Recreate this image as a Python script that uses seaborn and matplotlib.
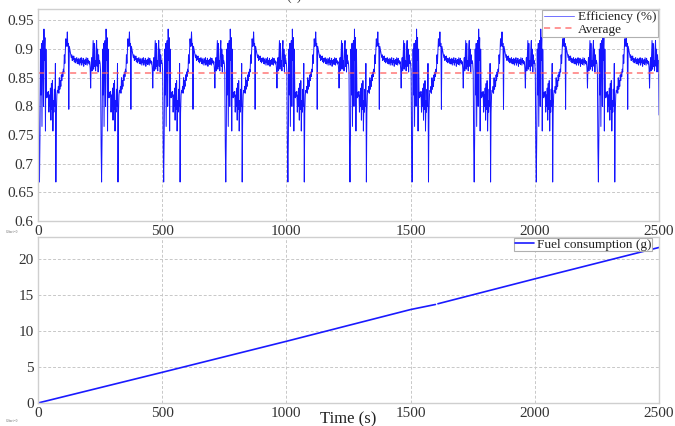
import numpy as np
import pandas as pd
import matplotlib
matplotlib.use("Agg")
import matplotlib.pyplot as plt
from matplotlib.ticker import FuncFormatter
import seaborn as sns

# ---------------- data ----------------
# one drive cycle of efficiency (2 s steps, 250 s long); the cycle repeats 10 times
eff_cycle = [
    0.875, 0.86, 0.73, 0.668, 0.75, 0.90, 0.82, 0.91, 0.765, 0.905,
    0.915, 0.80, 0.935, 0.88, 0.92, 0.757, 0.90, 0.822, 0.815, 0.825,
    0.818, 0.826, 0.79, 0.82, 0.80, 0.832, 0.776, 0.84, 0.795, 0.845,
    0.757, 0.81, 0.79, 0.83, 0.80, 0.875, 0.668, 0.79, 0.82, 0.828,
    0.825, 0.835, 0.823, 0.85, 0.83, 0.845, 0.835, 0.855, 0.845, 0.86,
    0.852, 0.865, 0.86, 0.89, 0.875, 0.895, 0.918, 0.905, 0.91, 0.93,
    0.905, 0.91, 0.795, 0.905, 0.90, 0.895, 0.89, 0.885, 0.89, 0.88,
    0.887, 0.882, 0.888, 0.878, 0.884, 0.876, 0.883, 0.879, 0.885, 0.875,
    0.882, 0.874, 0.884, 0.878, 0.872, 0.883, 0.876, 0.885, 0.872, 0.88,
    0.876, 0.884, 0.87, 0.88, 0.875, 0.882, 0.873, 0.885, 0.878, 0.872,
    0.884, 0.876, 0.88, 0.874, 0.878, 0.866, 0.832, 0.87, 0.885, 0.862,
    0.89, 0.915, 0.865, 0.91, 0.87, 0.88, 0.862, 0.90, 0.915, 0.87,
    0.90, 0.86, 0.89, 0.875, 0.88,
]
n_cycles = 10
eff_start = 0.60      # value at t = 0
eff_end = 0.785       # value at t = 2500
eff_average = 0.858

fuel_time = [0, 500, 1000, 1500, 1600, 1610, 2000, 2500]
fuel_value = [0.0, 4.25, 8.55, 12.95, 13.65, 13.75, 17.2, 21.55]

xticks = [0, 500, 1000, 1500, 2000, 2500]
eff_yticks = [0.6, 0.65, 0.7, 0.75, 0.8, 0.85, 0.9, 0.95]
fuel_yticks = [0, 5, 10, 15, 20]

# ---------------- build frames ----------------
eff = np.concatenate([np.tile(eff_cycle, n_cycles), [eff_end]])
eff[0] = eff_start
t = np.arange(len(eff)) * 2.0
df_eff = pd.DataFrame({"t": t, "eff": eff})

ft = np.array(fuel_time, float)
fv = np.array(fuel_value, float)
df_f1 = pd.DataFrame({"t": ft[:5], "f": fv[:5]})
df_f2 = pd.DataFrame({"t": ft[5:], "f": fv[5:]})

# ---------------- style ----------------
sns.set_theme(style="whitegrid")
plt.rcParams["font.family"] = ["Liberation Serif", "DejaVu Serif"]

W, H = 675, 426
fig = plt.figure(figsize=(W / 100, H / 100), dpi=100)
fig.patch.set_facecolor("white")

def ax_rect(l, r, top, bot):
    return [l / W, 1 - bot / H, (r - l) / W, (bot - top) / H]

ax1 = fig.add_axes(ax_rect(38, 659, 9, 221))
ax2 = fig.add_axes(ax_rect(38, 659, 237, 403))

fmt = FuncFormatter(lambda v, p: f"{v:g}")

for ax in (ax1, ax2):
    ax.set_facecolor("white")
    ax.grid(True, color="#c8c8c8", linestyle=(0, (3, 2)), linewidth=0.7)
    for s in ax.spines.values():
        s.set_color("#cfcfcf")
        s.set_linewidth(1.0)
    ax.tick_params(length=0, labelsize=11, pad=3, colors="#333333")
    ax.set_xlim(0, 2500)
    ax.set_xticks(xticks)

# top: efficiency
sns.lineplot(data=df_eff, x="t", y="eff", ax=ax1, color="#1414ff", lw=0.7,
             label="Efficiency (%)", estimator=None, legend=False)
ax1.axhline(eff_average, color="#ff6060", lw=1.1, ls=(0, (4, 3)), alpha=0.85,
            label="Average")
ax1.set_ylim(0.6, 0.97)
ax1.set_yticks(eff_yticks)
ax1.yaxis.set_major_formatter(fmt)
ax1.set_xlabel("")
ax1.set_ylabel("")
leg1 = ax1.legend(loc="upper right", fontsize=9.5, frameon=True, fancybox=False,
                  edgecolor="#b0b0b0", framealpha=1, borderpad=0.12,
                  labelspacing=0.0, handlelength=2.3, handletextpad=0.3,
                  borderaxespad=0.05)
leg1.get_frame().set_linewidth(0.8)
leg1.get_lines()[0].set_color("#7070ff")
leg1.set_zorder(10)
for txt in leg1.get_texts():
    txt.set_color("#222222")

# bottom: fuel
sns.lineplot(data=df_f1, x="t", y="f", ax=ax2, color="#1a1aff", lw=1.2,
             label="Fuel consumption (g)", estimator=None, legend=False)
sns.lineplot(data=df_f2, x="t", y="f", ax=ax2, color="#1a1aff", lw=1.2,
             estimator=None, legend=False)
ax2.set_ylim(0, 23)
ax2.set_yticks(fuel_yticks)
ax2.yaxis.set_major_formatter(fmt)
ax2.set_ylabel("")
ax2.set_xlabel("Time (s)", fontsize=12, color="#222222", va="top")
ax2.xaxis.set_label_coords(0.5, -0.05)
leg2 = ax2.legend(loc="upper right", fontsize=9.5, frameon=True, fancybox=False,
                  edgecolor="#b0b0b0", framealpha=1, borderpad=0.05,
                  handlelength=1.5, handletextpad=0.2, borderaxespad=0.05,
                  bbox_to_anchor=(0.99, 1.0))
leg2.get_frame().set_linewidth(0.8)
leg2.set_zorder(10)
for txt in leg2.get_texts():
    txt.set_color("#222222")

# clipped panel title and tiny offset notes
fig.text(294 / W, 1 - 3 / H, "(a)", ha="center", va="bottom", fontsize=10, color="#333333")
fig.text(6 / W, 1 - 232 / H, "Offset=0", fontsize=2.5, color="#666666", va="center")
fig.text(6 / W, 1 - 421 / H, "Offset=0", fontsize=2.5, color="#666666", va="center")

fig.savefig("out.png", dpi=100, facecolor="white")
